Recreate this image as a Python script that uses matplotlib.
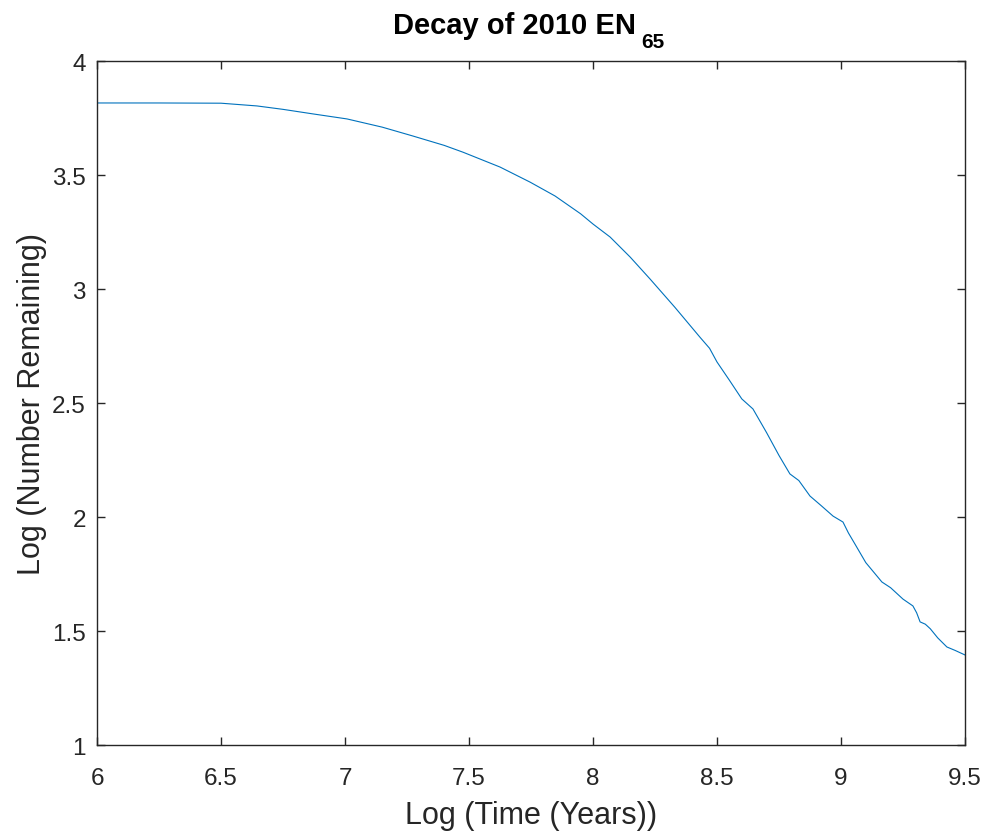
import matplotlib.pyplot as plt

plt.rcParams['font.family'] = ['Liberation Sans', 'DejaVu Sans']

# values
log_time = [6.0, 6.25, 6.5, 6.645, 6.75, 6.871, 7.008, 7.15, 7.274, 7.4, 7.476,
            7.625, 7.746, 7.847, 7.95, 8.0, 8.069, 8.15, 8.23, 8.33, 8.431,
            8.47, 8.5, 8.55, 8.6, 8.645, 8.7, 8.75, 8.794, 8.83, 8.875, 8.92,
            8.968, 9.008, 9.03, 9.056, 9.1, 9.165, 9.2, 9.25, 9.29, 9.305,
            9.319, 9.34, 9.36, 9.39, 9.427, 9.46, 9.5]
log_remaining = [3.816, 3.816, 3.815, 3.803, 3.788, 3.768, 3.746, 3.71, 3.671,
                 3.63, 3.60, 3.535, 3.469, 3.408, 3.33, 3.285, 3.228, 3.14,
                 3.044, 2.92, 2.789, 2.74, 2.68, 2.60, 2.518, 2.474, 2.37,
                 2.27, 2.189, 2.16, 2.092, 2.05, 2.004, 1.978, 1.93, 1.882,
                 1.80, 1.715, 1.69, 1.64, 1.61, 1.58, 1.54, 1.53, 1.51, 1.47,
                 1.43, 1.415, 1.395]

x_ticks = [6, 6.5, 7, 7.5, 8, 8.5, 9, 9.5]
x_labels = ['6', '6.5', '7', '7.5', '8', '8.5', '9', '9.5']
y_ticks = [1, 1.5, 2, 2.5, 3, 3.5, 4]
y_labels = ['1', '1.5', '2', '2.5', '3', '3.5', '4']

fig = plt.figure(figsize=(9.87, 8.37), dpi=100)
ax = fig.add_axes([0.0983, 0.1087, 0.8794, 0.8172])

ax.plot(log_time, log_remaining, color='#0072BD', linewidth=0.8)

ax.set_xlim(6, 9.5)
ax.set_ylim(1, 4)
ax.set_xticks(x_ticks)
ax.set_xticklabels(x_labels)
ax.set_yticks(y_ticks)
ax.set_yticklabels(y_labels)

ax.tick_params(direction='in', top=True, right=True, length=6, width=1,
               colors='#262626', labelsize=17.5)
ax.tick_params(axis='x', pad=16)
ax.tick_params(axis='y', pad=8)
for sp in ax.spines.values():
    sp.set_color('#262626')
    sp.set_linewidth(1)

ax.set_xlabel('Log (Time (Years))', fontsize=22, color='#262626', labelpad=8)
ax.set_ylabel('Log (Number Remaining)', fontsize=22, color='#262626', labelpad=4)

# title with a low MATLAB-style subscript
fig.text(0.5213, 1 - 34 / 837, 'Decay of 2010 EN', ha='center', va='baseline',
         fontsize=21, fontweight='bold')
fig.text(641 / 987, 1 - 48 / 837, '65', ha='left', va='baseline',
         fontsize=15, fontweight='bold')

plt.savefig('out.png', dpi=100)
